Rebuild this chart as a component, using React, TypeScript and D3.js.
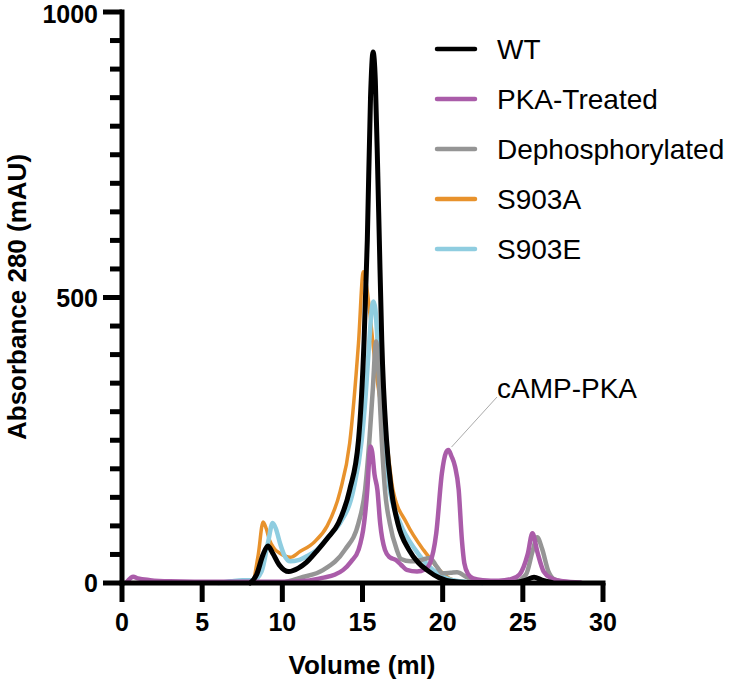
import React from 'react';
import * as d3 from 'd3';

// volume (ml), absorbance (mAU)
const wt = [
  [8.0, 0], [8.4, 15], [8.8, 50], [9.1, 65], [9.4, 52], [9.8, 32], [10.4, 20], [11, 26],
  [11.5, 36], [12.15, 56], [12.8, 78], [13.5, 105], [14.2, 163], [14.75, 250], [15.1, 426],
  [15.3, 600], [15.5, 850], [15.66, 930], [15.8, 880], [15.95, 720], [16.05, 600], [16.2, 426],
  [16.5, 250], [16.8, 163], [17.2, 105], [17.9, 58], [18.5, 35], [19.0, 23], [19.8, 9],
  [20.5, 3], [21.5, 1], [24.5, 1], [25.2, 5], [25.7, 10], [26.2, 5], [26.8, 1],
];

const pkaTreated = [
  [0.3, 2], [0.55, 9], [0.7, 11], [1.0, 8], [1.75, 5], [3, 3], [6, 2], [10, 2], [11.5, 4],
  [12.5, 9], [13.3, 15], [13.8, 23], [14.3, 38], [14.75, 58], [15.1, 105], [15.3, 163],
  [15.45, 230], [15.51, 239], [15.6, 230], [15.75, 190], [15.93, 163], [16.1, 105], [16.4, 58],
  [16.7, 45], [17.1, 40], [17.4, 32], [17.76, 23], [18.4, 20], [18.9, 24], [19.2, 34],
  [19.6, 87], [19.95, 192], [20.2, 228], [20.36, 233], [20.55, 222], [20.77, 204], [21.0, 163],
  [21.2, 75], [21.35, 35], [21.6, 15], [21.9, 8], [22.5, 5], [23.5, 4], [24.3, 7], [24.8, 15],
  [25.3, 50], [25.6, 87], [25.9, 55], [26.3, 20], [26.8, 8], [27.5, 3], [28.6, 1],
];

const dephos = [
  [10, 0], [11.1, 9], [12.56, 23], [13.9, 58], [14.75, 105], [15.16, 163], [15.43, 250],
  [15.64, 338], [15.85, 423], [16.05, 338], [16.2, 250], [16.4, 163], [16.7, 105], [17.14, 58],
  [17.4, 42], [18, 38], [18.6, 40], [19.2, 44], [19.6, 30], [20.0, 17], [20.5, 18], [20.9, 19],
  [21.5, 10], [22.2, 3], [23, 1], [24.5, 2], [25.2, 15], [25.6, 55], [25.9, 80], [26.2, 60],
  [26.6, 20], [27, 6], [27.8, 1],
];

const s903a = [
  [0.3, 0], [8.1, 0], [8.5, 50], [8.8, 107], [9.0, 95], [9.2, 75], [9.5, 60], [9.85, 52],
  [10.5, 45], [11.1, 55], [12, 72], [12.8, 100], [13.6, 160], [14.2, 245], [14.75, 420],
  [15.05, 545], [15.25, 520], [15.47, 470], [15.8, 380], [16.1, 320], [16.5, 250], [16.9, 163],
  [17.75, 105], [18.8, 58], [19.3, 40], [19.8, 23], [20.3, 10], [21, 2],
];

const s903e = [
  [6.0, 0], [6.8, 3], [7.5, 5], [8.2, 5], [8.7, 20], [9.1, 70], [9.4, 105], [9.6, 95],
  [9.85, 70], [10.1, 50], [10.5, 38], [11, 40], [11.6, 48], [12.15, 58], [13, 85], [13.6, 105],
  [14.43, 163], [14.95, 250], [15.2, 330], [15.43, 426], [15.6, 485], [15.68, 493], [15.8, 480],
  [15.93, 426], [16.1, 340], [16.4, 250], [16.7, 163], [17.35, 105], [18.3, 58], [19.4, 23],
  [20.5, 6], [21.5, 2], [22.5, 0],
];

const legendNames = ['WT', 'PKA-Treated', 'Dephosphorylated', 'S903A', 'S903E'];
const legendColors = ['#000000', '#aa5ca9', '#959595', '#e8922c', '#8fcde0'];
const xTicks = [0, 5, 10, 15, 20, 25, 30];
const yLabels = [0, 500, 1000];

export default function App() {
  const x = d3.scaleLinear().domain([0, 30]).range([122, 603]);
  const y = d3.scaleLinear().domain([0, 1000]).range([583, 12]);
  const line = d3.line<number[]>()
    .x((d) => x(d[0]))
    .y((d) => y(d[1]))
    .curve(d3.curveMonotoneX);

  // draw order bottom -> top
  const series = [
    { data: s903a, color: legendColors[3], w: 3.5 },
    { data: s903e, color: legendColors[4], w: 4.5 },
    { data: dephos, color: legendColors[2], w: 4.5 },
    { data: pkaTreated, color: legendColors[1], w: 4.5 },
    { data: wt, color: legendColors[0], w: 5 },
  ];

  const minor = d3.range(0, 1001, 50).filter((v) => v % 500 !== 0);
  const font = 'Liberation Sans, Arial, Helvetica, sans-serif';

  return (
    <div style={{ position: 'absolute', left: 0, top: 0 }}>
      <svg width={731} height={684} style={{ display: 'block', fontFamily: font }}>
        {series.map((s, i) => (
          <path key={i} d={line(s.data as number[][]) || ''} fill="none" stroke={s.color}
            strokeWidth={s.w} strokeLinejoin="round" strokeLinecap="round" />
        ))}

        {/* axes */}
        <g stroke="#000" strokeWidth={5}>
          <line x1={x(0)} x2={x(0)} y1={y(1000) - 2.5} y2={y(0) + 2.5} />
          <line x1={x(0) - 2.5} x2={x(30) + 2.5} y1={y(0)} y2={y(0)} />
          {xTicks.map((t) => (
            <line key={t} x1={x(t)} x2={x(t)} y1={y(0)} y2={y(0) + 19} />
          ))}
          {yLabels.map((t) => (
            <line key={t} x1={x(0) - 19} x2={x(0)} y1={y(t)} y2={y(t)} />
          ))}
          {minor.map((t) => (
            <line key={t} x1={x(0) - 12} x2={x(0)} y1={y(t)} y2={y(t)} />
          ))}
        </g>
        <g fontSize={25} fontWeight="bold" fill="#000">
          {xTicks.map((t) => (
            <text key={t} x={x(t)} y={631} textAnchor="middle">{t}</text>
          ))}
          {yLabels.map((t) => (
            <text key={t} x={98} y={Math.max(y(t), 14)} dy="0.36em" textAnchor="end">{t}</text>
          ))}
        </g>
        <text x={362} y={674} textAnchor="middle" fontSize={26} fontWeight="bold">Volume (ml)</text>
        <text transform="translate(26,297) rotate(-90)" textAnchor="middle" fontSize={26}
          fontWeight="bold">Absorbance 280 (mAU)</text>

        {/* legend */}
        {legendNames.map((n, i) => (
          <g key={n} transform={`translate(0,${49 + i * 50})`}>
            <line x1={437} x2={475} y1={0} y2={0} stroke={legendColors[i]} strokeWidth={4.5}
              strokeLinecap="round" />
            <text x={497} y={0} dy="0.36em" fontSize={28}>{n}</text>
          </g>
        ))}

        {/* annotation */}
        <line x1={x(20.55)} y1={y(238)} x2={497} y2={397} stroke="#aaa" strokeWidth={1} />
        <text x={497} y={398} fontSize={28}>cAMP-PKA</text>
      </svg>
    </div>
  );
}
